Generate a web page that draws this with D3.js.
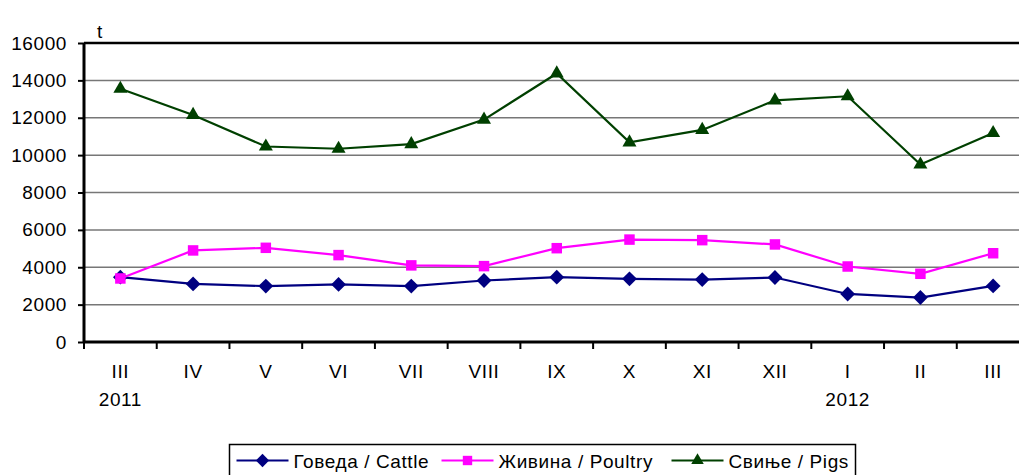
<!DOCTYPE html>
<html>
<head>
<meta charset="utf-8">
<script src="https://cdn.jsdelivr.net/npm/d3@7"></script>
<style>
  body { margin: 0; background: #fff; }
  text { font-family: "Liberation Sans", Arial, sans-serif; font-size: 19px; fill: #000; letter-spacing: 0.6px; }
</style>
</head>
<body>
<div id="chart"></div>
<script>
// months on the x axis (March 2011 - March 2012)
const months = ["III", "IV", "V", "VI", "VII", "VIII", "IX", "X", "XI", "XII", "I", "II", "III"];
const yearLabels = [{ index: 0, label: "2011" }, { index: 10, label: "2012" }];
const yTicks = [0, 2000, 4000, 6000, 8000, 10000, 12000, 14000, 16000];

// values in tonnes
const cattle = [3470, 3110, 2990, 3080, 2990, 3290, 3470, 3380, 3340, 3450, 2570, 2380, 3000];
const poultry = [3400, 4900, 5040, 4650, 4100, 4060, 5020, 5480, 5450, 5220, 4040, 3650, 4750];
const pigs = [13550, 12150, 10460, 10340, 10590, 11900, 14370, 10680, 11350, 12930, 13150, 9500, 11180];

const series = [
    { name: "Говеда / Cattle", values: cattle, color: "#000080", symbol: d3.symbolDiamond2 || d3.symbolDiamond, size: 140 },
    { name: "Живина / Poultry", values: poultry, color: "#FF00FF", symbol: d3.symbolSquare, size: 110 },
    { name: "Свиње / Pigs", values: pigs, color: "#004000", symbol: d3.symbolTriangle, size: 85 }
];

const width = 1019, height = 475;
const plotLeft = 84, plotTop = 43, plotBottom = 342, plotRight = 1029.5;

const svg = d3.select("#chart").append("svg")
    .attr("width", width)
    .attr("height", height);

const x = d3.scaleBand()
    .domain(d3.range(months.length))
    .range([plotLeft, plotRight]);

const y = d3.scaleLinear()
    .domain([0, 16000])
    .range([plotBottom, plotTop]);

// horizontal gridlines
svg.append("g")
    .selectAll("line")
    .data(yTicks.filter(d => d > 0))
    .join("line")
    .attr("x1", plotLeft)
    .attr("x2", plotRight)
    .attr("y1", d => y(d))
    .attr("y2", d => y(d))
    .attr("stroke", d => d === 16000 ? "#000" : "#777")
    .attr("stroke-width", d => d === 16000 ? 2.5 : 1.5);

// y axis
const yAxis = svg.append("g")
    .attr("transform", `translate(${plotLeft},0)`)
    .call(d3.axisLeft(y).tickValues(yTicks).tickSize(6).tickPadding(11).tickFormat(d3.format("d")));
yAxis.select(".domain").attr("stroke", "#000").attr("stroke-width", 3).attr("d", `M0,${plotTop}V${plotBottom}`);
yAxis.selectAll(".tick line").attr("stroke", "#000").attr("stroke-width", 2);
yAxis.selectAll("text")
    .style("font-size", "19px")
    .style("font-family", "'Liberation Sans', Arial, sans-serif")
    .attr("fill", "#000");

// x axis with ticks on category boundaries
const xAxis = svg.append("g")
    .attr("transform", `translate(0,${plotBottom})`);
xAxis.append("line")
    .attr("x1", plotLeft)
    .attr("x2", plotRight)
    .attr("stroke", "#000")
    .attr("stroke-width", 3);
xAxis.selectAll(".xtick")
    .data(d3.range(months.length + 1))
    .join("line")
    .attr("class", "xtick")
    .attr("x1", i => plotLeft + i * x.step())
    .attr("x2", i => plotLeft + i * x.step())
    .attr("y1", 0)
    .attr("y2", 7)
    .attr("stroke", "#000")
    .attr("stroke-width", 2);
xAxis.selectAll(".mlabel")
    .data(months)
    .join("text")
    .attr("class", "mlabel")
    .attr("x", (d, i) => x(i) + x.bandwidth() / 2)
    .attr("y", 36)
    .attr("text-anchor", "middle")
    .text(d => d);
xAxis.selectAll(".ylabel")
    .data(yearLabels)
    .join("text")
    .attr("class", "ylabel")
    .attr("x", d => x(d.index) + x.bandwidth() / 2)
    .attr("y", 64)
    .attr("text-anchor", "middle")
    .text(d => d.label);

// unit label
svg.append("text")
    .attr("x", 100)
    .attr("y", 38)
    .attr("text-anchor", "middle")
    .text("t");

// lines and markers
const line = d3.line()
    .x((d, i) => x(i) + x.bandwidth() / 2)
    .y(d => y(d));

series.forEach(s => {
    svg.append("path")
        .datum(s.values)
        .attr("fill", "none")
        .attr("stroke", s.color)
        .attr("stroke-width", 2.2)
        .attr("d", line);
    svg.append("g")
        .selectAll("path")
        .data(s.values)
        .join("path")
        .attr("transform", (d, i) => `translate(${x(i) + x.bandwidth() / 2},${y(d)})`)
        .attr("d", d3.symbol().type(s.symbol).size(s.size))
        .attr("fill", s.color);
});

// legend
const legend = svg.append("g");
legend.append("rect")
    .attr("x", 229.5)
    .attr("y", 444.5)
    .attr("width", 626)
    .attr("height", 40)
    .attr("fill", "#fff")
    .attr("stroke", "#000")
    .attr("stroke-width", 1.5);

const legendX = [236.5, 441.5, 671.5];
series.forEach((s, i) => {
    const g = legend.append("g").attr("transform", `translate(${legendX[i]},460.5)`);
    g.append("line")
        .attr("x1", 0)
        .attr("x2", 52)
        .attr("stroke", s.color)
        .attr("stroke-width", 2.2);
    g.append("path")
        .attr("transform", "translate(26,0)")
        .attr("d", d3.symbol().type(s.symbol).size(s.size * 0.8))
        .attr("fill", s.color);
    g.append("text")
        .attr("x", 57)
        .attr("y", 7)
        .text(s.name);
});
</script>
</body>
</html>
